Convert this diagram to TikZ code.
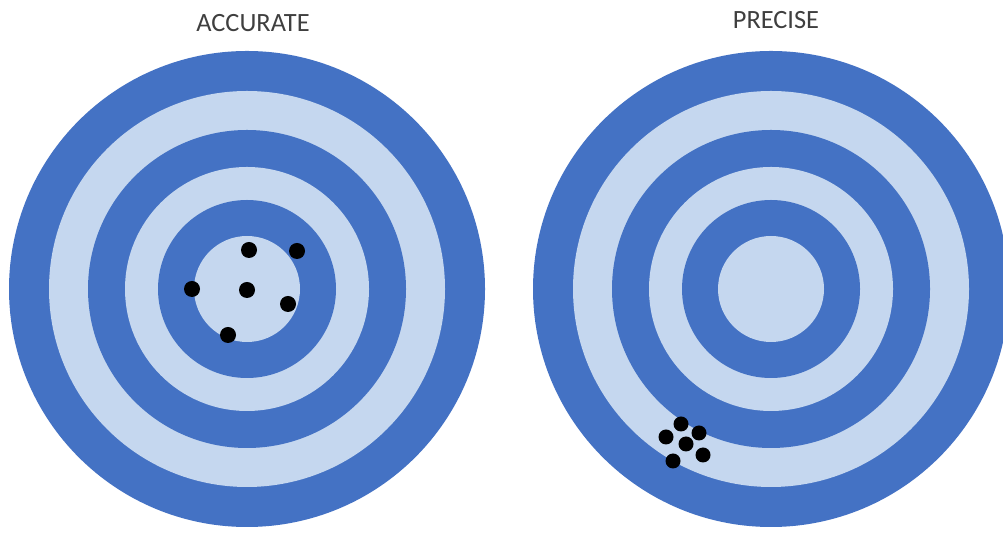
\documentclass[tikz,border=0pt]{standalone}
\usepackage{fontspec}
\setmainfont{Carlito}
\definecolor{ringdark}{HTML}{4472C4}
\definecolor{ringlight}{HTML}{C5D7EF}
\definecolor{titlegray}{HTML}{3F3F3F}

\begin{document}
\begin{tikzpicture}[x=0.02cm,y=0.02cm,every node/.style={font=\fontsize{15}{18}\selectfont,text=titlegray}]
\useasboundingbox (0,0) rectangle (1003,533);
\clip (0,0) rectangle (1003,533);
\coordinate (cA) at (247,244);
\coordinate (cP) at (771,244);
% accurate target
\fill[ringdark] (cA) circle (238);
\fill[ringlight] (cA) circle (198);
\fill[ringdark] (cA) circle (159);
\fill[ringlight] (cA) circle (122);
\fill[ringdark] (cA) circle (89);
\fill[ringlight] (cA) circle (53);
% precise target
\fill[ringdark] (cP) circle (238);
\fill[ringlight] (cP) circle (198);
\fill[ringdark] (cP) circle (159);
\fill[ringlight] (cP) circle (122);
\fill[ringdark] (cP) circle (89);
\fill[ringlight] (cP) circle (53);
% hits
\coordinate (a1) at (249,283);
\coordinate (a2) at (297,282);
\coordinate (a3) at (192,244);
\coordinate (a4) at (247,243);
\coordinate (a5) at (288,229);
\coordinate (a6) at (228,198);
\fill (a1) circle (8);\fill (a2) circle (8);\fill (a3) circle (8);
\fill (a4) circle (8);\fill (a5) circle (8);\fill (a6) circle (8);
\coordinate (p1) at (681,109);
\coordinate (p2) at (666,96);
\coordinate (p3) at (699,100);
\coordinate (p4) at (686,89);
\coordinate (p5) at (703,78);
\coordinate (p6) at (673,72);
\fill (p1) circle (7.5);\fill (p2) circle (7.5);\fill (p3) circle (7.5);
\fill (p4) circle (7.5);\fill (p5) circle (7.5);\fill (p6) circle (7.5);
% titles
\node (tA) at (253,510) {ACCURATE};
\node (tP) at (776,513) {PRECISE};
\end{tikzpicture}
\end{document}
